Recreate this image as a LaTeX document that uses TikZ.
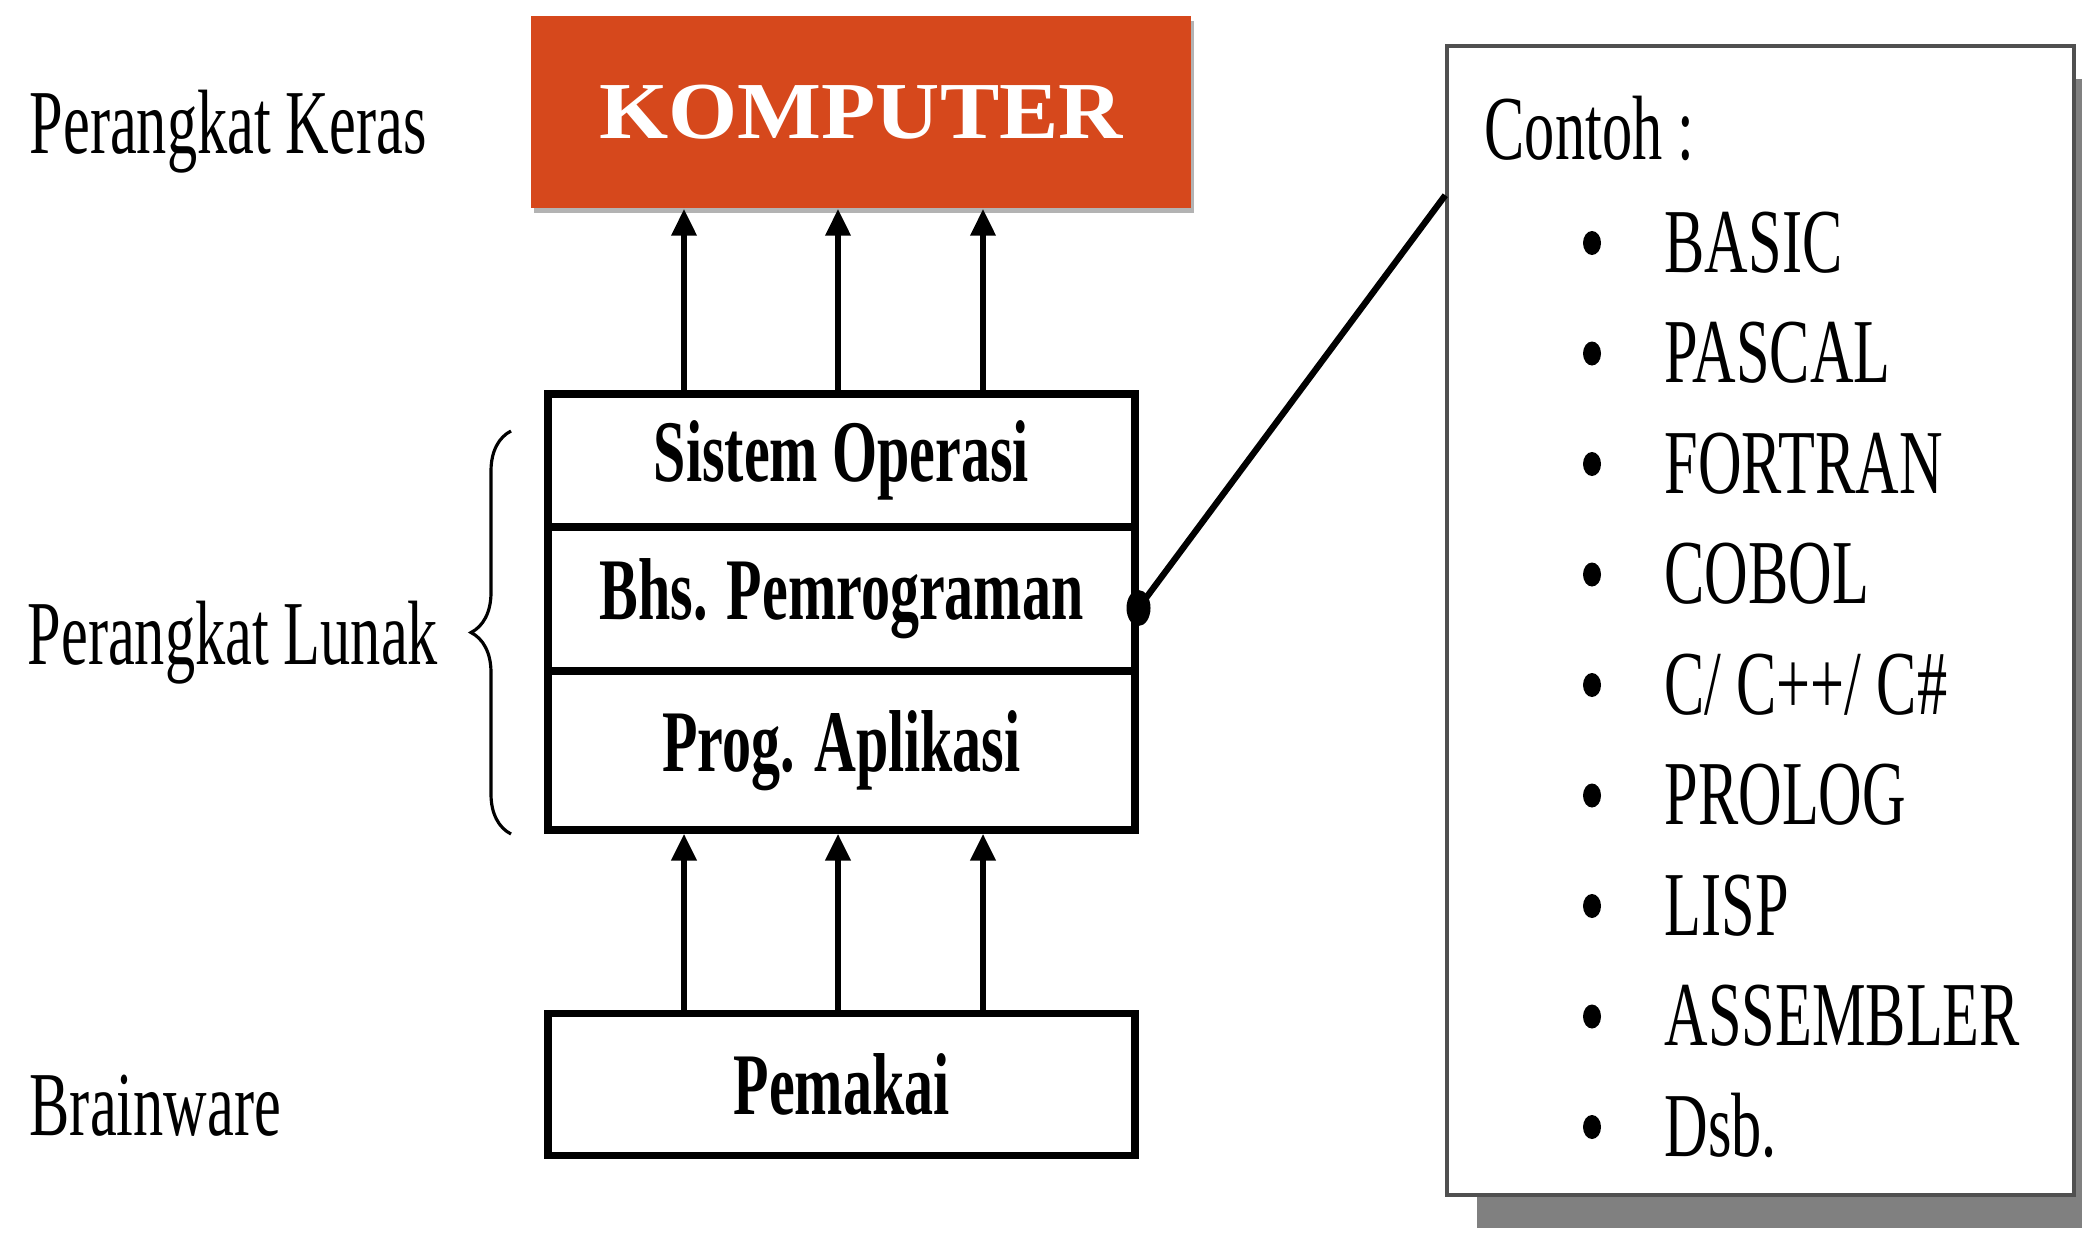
\documentclass[tikz,border=0pt]{standalone}
\usepackage{fontspec}
\newfontfamily\narrowfont{Liberation Serif}[FakeStretch=0.66]
\newfontfamily\widefont{Liberation Serif}[FakeStretch=1.1]
\usetikzlibrary{arrows.meta,decorations.pathreplacing,shadows,shapes.geometric}
\definecolor{hwred}{RGB}{214,72,28}
\definecolor{shadowgray}{RGB}{128,128,128}
\definecolor{framegray}{RGB}{80,80,80}

\tikzset{
  lbl/.style={anchor=base west,inner sep=0pt,font=\narrowfont\fontsize{26}{30}\selectfont},
  layer/.style={draw,line width=2pt,minimum width=58.7mm,inner sep=0pt,font=\narrowfont\bfseries\fontsize{25}{30}\selectfont},
  uparrow/.style={-{Triangle[length=2.7mm,width=2.4mm]},line width=1.9pt},
  dot/.style={ellipse,fill,inner sep=0pt,minimum width=2.4mm,minimum height=3.6mm},
  bulletdot/.style={ellipse,fill,inner sep=0pt,minimum width=1.8mm,minimum height=2.4mm},
}

\begin{document}
\begin{tikzpicture}[x=0.1mm,y=-0.1mm]
\useasboundingbox (0,0) rectangle (2082,1234);

% Hardware
\node[fill=hwred,minimum width=66mm,minimum height=19.2mm,text=white,
  font=\widefont\bfseries\fontsize{23}{28}\selectfont,
  drop shadow={shadow xshift=0.3mm,shadow yshift=-0.5mm,fill=gray,opacity=0.6}] (komputer) at (861,112) {KOMPUTER};

% Software layers
\node[layer,minimum height=13.3mm] (sistem) at (841.5,460.5) {Sistem Operasi};
\node[layer,minimum height=14.4mm] (bahasa) at (841.5,599) {Bhs. Pemrograman};
\node[layer,minimum height=15.9mm] (aplikasi) at (841.5,750.5) {Prog. Aplikasi};

% User
\node[layer,minimum height=14.2mm] (pemakai) at (841.5,1084) {Pemakai};

% Arrows
\foreach \dx in {-15.75,-0.35,14.15} {
  \draw[uparrow] ([xshift=\dx mm]sistem.north) -- ([xshift=\dx mm]sistem.north |- komputer.south);
  \draw[uparrow] ([xshift=\dx mm]pemakai.north) -- ([xshift=\dx mm]pemakai.north |- aplikasi.south);
}

% Brace
\coordinate (bracebot) at (511,834);
\coordinate (bracetop) at (511,431);
\draw[line width=0.9pt,decorate,decoration={brace,amplitude=4mm}] (bracebot) -- (bracetop);

% Labels
\node[lbl] (keras) at (29,153) {Perangkat Keras};
\node[lbl] (lunak) at (27,664) {Perangkat Lunak};
\node[lbl] (brainware) at (29,1135) {Brainware};

% Examples box
\node[draw=framegray,line width=1pt,fill=white,minimum width=62.7mm,minimum height=114.9mm,inner sep=0pt,
  drop shadow={shadow xshift=3mm,shadow yshift=-3.3mm,fill=shadowgray,opacity=1}] (contoh) at (1760.5,620.5) {};
\node[lbl] (judul) at (1484,159) {Contoh :};
\foreach \lang [count=\i from 0] in {BASIC,PASCAL,FORTRAN,COBOL,{C/ C++/ C\#},PROLOG,LISP,ASSEMBLER,Dsb.} {
  \node[bulletdot] (b\i) at (1592,243+110.5*\i) {};
  \node[lbl] (item\i) at (1664,272+110.5*\i) {\lang};
}

% Connector
\node[dot] (pin) at ([yshift=-0.9mm]bahasa.east) {};
\draw[line width=1.8pt] (pin.center) -- ([yshift=-15.1mm]contoh.north west);
\end{tikzpicture}
\end{document}
